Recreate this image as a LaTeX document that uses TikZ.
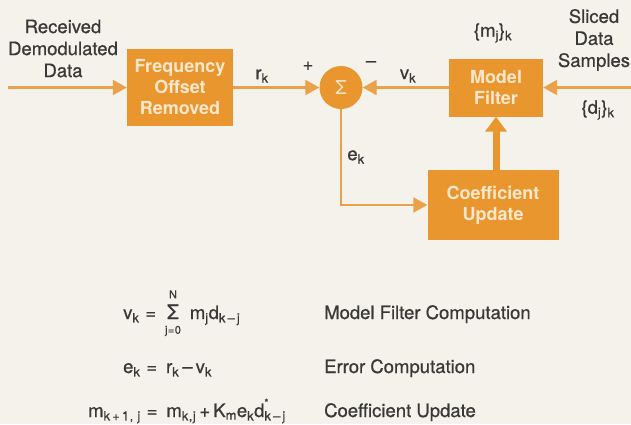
\documentclass[tikz,border=0pt]{standalone}
\usepackage{fontspec}
\setmainfont{TeX Gyre Heros}
\newfontfamily\medium{TeX Gyre Heros}[FakeBold=0.7]
\newfontfamily\eqfont{TeX Gyre Heros}[FakeBold=0.7,LetterSpace=4]
\usetikzlibrary{arrows.meta}
\definecolor{bg}{HTML}{F4F2EA}
\definecolor{org}{HTML}{E9962F}
\definecolor{orgline}{HTML}{EBA04A}
\definecolor{boxtxt}{HTML}{FBE8CC}
\definecolor{txt}{HTML}{383838}
\newcommand\sbx[1]{\textsubscript{#1}}
\newcommand\mysum{$\mathop{\mbox{\fontsize{20}{20}\selectfont Σ}}\limits^{\mbox{\fontsize{11}{11}\selectfont N}\rule[-5pt]{0pt}{0pt}}_{\rule{0pt}{13pt}\mbox{\fontsize{11}{11}\selectfont j=0}}$}
\begin{document}
\begin{tikzpicture}[x=1pt,y=-1pt,
 blk/.style={fill=org, draw=none, text=boxtxt, font=\fontsize{18}{21}\selectfont\bfseries, align=center, inner sep=0pt},
 lbl/.style={text=txt, font=\medium\fontsize{18.5}{22}\selectfont, align=center, inner sep=0pt},
 eq/.style={text=txt, font=\eqfont\fontsize{18.5}{22}\selectfont, inner sep=0pt, anchor=base west},
 conn/.style={draw=orgline, line width=2.2pt},
 tip/.style={-{Triangle[length=14pt,width=15pt]}},
 ]
\fill[bg] (0,0) rectangle (631,424);
\useasboundingbox (0,0) rectangle (631,424);

\node[blk, minimum width=106pt, minimum height=77pt] (freq) at (180,87.5) {Frequency\\Offset\\Removed};
\node[circle, fill=org, minimum size=43pt, inner sep=0pt, text=boxtxt, font=\fontsize{19}{19}\selectfont] (sum) at (341,87.5) {Σ};
\node[blk, minimum width=94pt, minimum height=58pt] (model) at (496,87.5) {Model\\Filter};
\node[blk, minimum width=131pt, minimum height=70pt] (coef) at (493,205) {Coefficient\\Update};

\coordinate (in) at (8,87.5);
\coordinate (rin) at (631,87.5);

\draw[conn,tip] (in) -- (freq.west);
\draw[conn,tip] (freq.east) -- (sum.west);
\draw[conn,tip] (model.west) -- (sum.east);
\draw[conn,tip] (rin) -- (model.east);
\draw[conn,tip] (sum.south) |- (coef.west);
\draw[draw=org, line width=7pt, -{Triangle[length=15pt,width=21pt]}] (coef.north -| model.south) -- (model.south);

\node[lbl] (recv) at (63,48.5) {Received\\Demodulated\\Data};
\node[lbl] (sliced) at (594,40) {Sliced\\Data\\Samples};
\node[lbl] (rk) at (262,76) {r\sbx{k}};
\node[lbl] (vk) at (408,76) {v\sbx{k}};
\node[lbl] (plus) at (308,66) {+};
\node[lbl] (minus) at (371,64) {–};
\node[lbl] (mj) at (493,33) {\{m\sbx{j}\}\sbx{k}};
\node[lbl] (dj) at (598,110) {\{d\sbx{j}\}\sbx{k}};
\node[lbl] (ek) at (356,157) {e\sbx{k}};

\node[eq] (eq1) at (123,319) {v\sbx{k} = \,\mysum\,\ m\sbx{j}d\sbx{k\,–\,j}};
\node[eq] (eq2) at (123,373) {e\sbx{k} = \,r\sbx{k}\,–\,v\sbx{k}};
\node[eq] (eq3) at (88,417) {m\sbx{k\,+\,1,\ j} = \,m\sbx{k,j}\,+\,K\sbx{m}e\sbx{k}d\rlap{\raisebox{11pt}{\fontsize{10}{10}\selectfont *}}\sbx{k\,–\,j}};
\node[lbl, anchor=base west] (t1) at (324,319) {Model Filter Computation};
\node[lbl, anchor=base west] (t2) at (324,373) {Error Computation};
\node[lbl, anchor=base west] (t3) at (324,417) {Coefficient Update};
\end{tikzpicture}
\end{document}
